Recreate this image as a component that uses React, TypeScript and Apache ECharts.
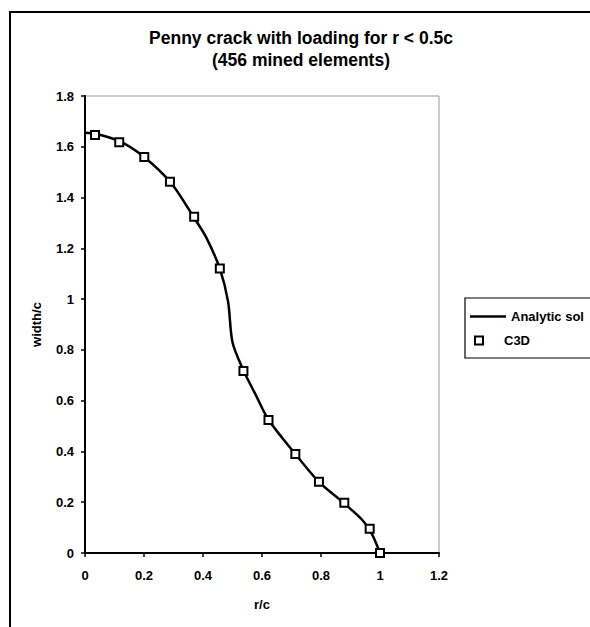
import React, { useEffect, useRef } from "react";
import * as echarts from "echarts";

const titleLines = ["Penny crack with loading for r < 0.5c", "(456 mined elements)"];
const xAxisName = "r/c";
const yAxisName = "width/c";
const analyticName = "Analytic sol";
const c3dName = "C3D";

const analyticX = [0, 0.04, 0.12, 0.2, 0.29, 0.37, 0.41, 0.457, 0.485, 0.5, 0.537, 0.58, 0.622, 0.713, 0.793, 0.879, 0.94, 0.97, 0.99, 1.0];
const analyticY = [1.655, 1.65, 1.62, 1.56, 1.46, 1.32, 1.245, 1.12, 0.99, 0.83, 0.72, 0.62, 0.525, 0.39, 0.28, 0.195, 0.13, 0.08, 0.03, 0];

const c3dX = [0.034, 0.116, 0.201, 0.288, 0.37, 0.457, 0.537, 0.622, 0.713, 0.793, 0.879, 0.965, 1.0];
const c3dY = [1.646, 1.618, 1.56, 1.462, 1.324, 1.121, 0.717, 0.524, 0.39, 0.281, 0.198, 0.096, 0];

const FONT = "'Liberation Sans', Arial, sans-serif";

const fmt = (v: number) => String(parseFloat(v.toFixed(1)));

export default function App() {
  const ref = useRef<HTMLDivElement>(null);
  useEffect(() => {
    if (!ref.current) return;
    const chart = echarts.init(ref.current, undefined, { renderer: "svg" });
    chart.setOption({
      animation: false,
      backgroundColor: "#fff",
      textStyle: { fontFamily: FONT },
      title: {
        text: titleLines.join("\n"),
        left: 301,
        top: 27,
        padding: 0,
        textAlign: "center",
        textStyle: { fontSize: 17.5, fontWeight: "bold", color: "#000", lineHeight: 22, fontFamily: FONT },
      },
      graphic: [
        { type: "rect", shape: { x: 10, y: 12, width: 620, height: 660 }, style: { fill: "none", stroke: "#000", lineWidth: 2 }, silent: true, z: -1 },
        { type: "rect", shape: { x: 465, y: 298, width: 160, height: 60 }, style: { fill: "none", stroke: "#000", lineWidth: 1.2 }, silent: true },
      ],
      legend: [
        {
          data: [{ name: analyticName, icon: "rect" }],
          left: 470,
          top: 310,
          padding: 0,
          itemWidth: 36,
          itemHeight: 2.5,
          itemStyle: { color: "#000", borderWidth: 0 },
          textStyle: { fontSize: 13, fontWeight: "bold", color: "#000", fontFamily: FONT },
        },
        {
          data: [{ name: c3dName, icon: "rect" }],
          left: 474,
          top: 334,
          padding: 0,
          itemWidth: 8,
          itemHeight: 8,
          textStyle: { fontSize: 13, fontWeight: "bold", color: "#000", fontFamily: FONT, padding: [0, 0, 0, 16] },
        },
      ],
      grid: { left: 85, top: 96, right: 151, bottom: 74, show: true, borderColor: "#999", borderWidth: 1, backgroundColor: "transparent" },
      xAxis: {
        type: "value",
        min: 0,
        max: 1.2,
        interval: 0.2,
        name: xAxisName,
        nameLocation: "middle",
        nameGap: 45,
        nameTextStyle: { fontSize: 13, fontWeight: "bold", color: "#000", fontFamily: FONT },
        axisLine: { show: true, onZero: false, lineStyle: { color: "#000", width: 2 } },
        axisTick: { show: true, length: 4, lineStyle: { color: "#000", width: 1.5 } },
        axisLabel: { fontSize: 13, fontWeight: "bold", color: "#000", margin: 16, formatter: fmt, fontFamily: FONT },
        splitLine: { show: false },
      },
      yAxis: {
        type: "value",
        min: 0,
        max: 1.8,
        interval: 0.2,
        name: yAxisName,
        nameLocation: "middle",
        nameGap: 42,
        nameRotate: 90,
        nameTextStyle: { fontSize: 13, fontWeight: "bold", color: "#000", fontFamily: FONT },
        axisLine: { show: true, onZero: false, lineStyle: { color: "#000", width: 2 } },
        axisTick: { show: true, length: 4, lineStyle: { color: "#000", width: 1.5 } },
        axisLabel: { fontSize: 13, fontWeight: "bold", color: "#000", margin: 11, formatter: fmt, fontFamily: FONT },
        splitLine: { show: false },
      },
      series: [
        {
          name: analyticName,
          type: "line",
          data: analyticX.map((x, i) => [x, analyticY[i]]),
          symbol: "none",
          smooth: 0.3,
          lineStyle: { color: "#000", width: 2.5 },
          itemStyle: { color: "#000" },
          z: 2,
        },
        {
          name: c3dName,
          type: "scatter",
          data: c3dX.map((x, i) => [x, c3dY[i]]),
          symbol: "rect",
          symbolSize: 8,
          itemStyle: { color: "#fff", borderColor: "#000", borderWidth: 2, opacity: 1 },
          z: 3,
        },
      ],
    });
    return () => chart.dispose();
  }, []);
  return <div ref={ref} style={{ position: "absolute", left: 0, top: 0, width: 590, height: 627 }} />;
}
